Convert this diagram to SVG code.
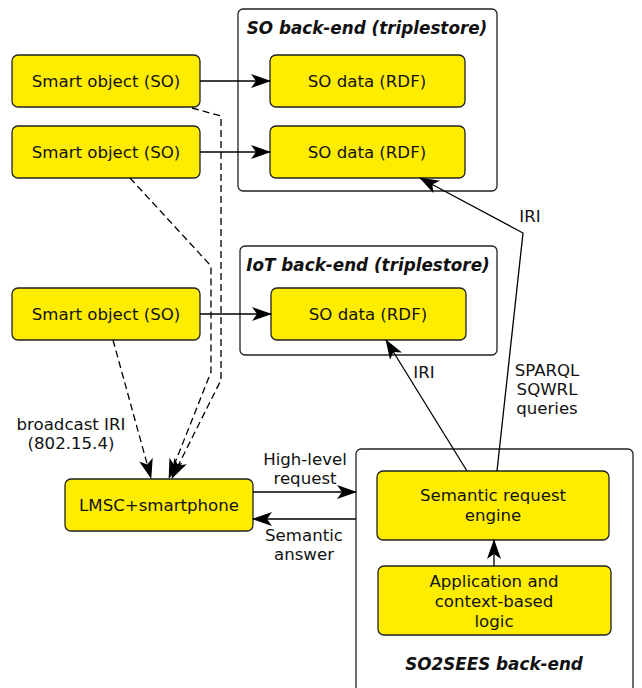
<svg xmlns="http://www.w3.org/2000/svg" width="642" height="688" viewBox="0 0 642 688">
<style>
.box{fill:#ffed00;stroke:#222;stroke-width:1.3}
.cont{fill:#fff;stroke:#222;stroke-width:1.3}
text{font-family:"DejaVu Sans",sans-serif;font-size:16.6px;fill:#111;text-anchor:middle}
.title{font-weight:bold;font-style:italic;font-size:16.8px}
.ln{fill:none;stroke:#000;stroke-width:1.3}
.dash{stroke-dasharray:7,4}
</style>
<defs>
<marker id="ah" viewBox="0 0 20 14" refX="19" refY="7" markerWidth="20" markerHeight="14" markerUnits="userSpaceOnUse" orient="auto">
<path d="M0,0 L20,7 L0,14 L5,7 Z" fill="#000"/>
</marker>
</defs>
<rect width="642" height="688" fill="#fff"/>
<g id="so-backend">
<rect class="cont" x="238" y="9" width="259" height="182" rx="5"/>
<text class="title" x="367" y="34">SO back-end (triplestore)</text>
</g>
<g id="iot-backend">
<rect class="cont" x="240" y="246" width="257" height="109" rx="5"/>
<text class="title" x="368" y="271">IoT back-end (triplestore)</text>
</g>
<g id="so2sees-backend">
<rect class="cont" x="356" y="449" width="277" height="250" rx="5"/>
<text class="title" x="494" y="670">SO2SEES back-end</text>
</g>
<g id="so1"><rect class="box" x="12" y="55" width="188" height="52" rx="6"/><text x="106" y="87">Smart object (SO)</text></g>
<g id="so2"><rect class="box" x="12" y="126" width="188" height="52" rx="6"/><text x="106" y="158">Smart object (SO)</text></g>
<g id="so3"><rect class="box" x="12" y="288" width="188" height="52" rx="6"/><text x="106" y="320">Smart object (SO)</text></g>
<g id="data1"><rect class="box" x="270" y="55" width="195" height="52" rx="6"/><text x="367" y="87">SO data (RDF)</text></g>
<g id="data2"><rect class="box" x="270" y="126" width="195" height="52" rx="6"/><text x="367" y="158">SO data (RDF)</text></g>
<g id="data3"><rect class="box" x="271" y="288" width="195" height="52" rx="6"/><text x="368" y="320">SO data (RDF)</text></g>
<g id="lmsc"><rect class="box" x="65" y="479" width="188" height="52" rx="6"/><text x="159" y="511">LMSC+smartphone</text></g>
<g id="engine"><rect class="box" x="377" y="471" width="232" height="69" rx="6"/><text x="493" y="501">Semantic request</text><text x="493" y="521">engine</text></g>
<g id="logic"><rect class="box" x="378" y="566" width="233" height="69" rx="6"/><text x="494" y="587">Application and</text><text x="494" y="607">context-based</text><text x="494" y="627">logic</text></g>
<g id="connectors">
<path class="ln" d="M200,81 H270" marker-end="url(#ah)"/>
<path class="ln" d="M200,152 H270" marker-end="url(#ah)"/>
<path class="ln" d="M200,314 H271" marker-end="url(#ah)"/>
<path class="ln dash" d="M192,108 L221,116 V380 L172,478" marker-end="url(#ah)"/>
<path class="ln dash" d="M130,178 L211,266 V372 L169,478" marker-end="url(#ah)"/>
<path class="ln dash" d="M113,340 L151,478" marker-end="url(#ah)"/>
<path class="ln" d="M253,492 H356" marker-end="url(#ah)"/>
<path class="ln" d="M356,519 H253" marker-end="url(#ah)"/>
<path class="ln" d="M494,566 V540" marker-end="url(#ah)"/>
<path class="ln" d="M467,471 L386,340" marker-end="url(#ah)"/>
<path class="ln" d="M497,471 L523,233 L420,178" marker-end="url(#ah)"/>
</g>
<g id="labels">
<text x="71" y="430">broadcast IRI</text>
<text x="71" y="449">(802.15.4)</text>
<text x="305" y="465">High-level</text>
<text x="305" y="484">request</text>
<text x="304" y="541">Semantic</text>
<text x="304" y="560">answer</text>
<text x="424" y="378">IRI</text>
<text x="530" y="222">IRI</text>
<text x="547" y="376">SPARQL</text>
<text x="547" y="395">SQWRL</text>
<text x="547" y="414">queries</text>
</g>
</svg>
